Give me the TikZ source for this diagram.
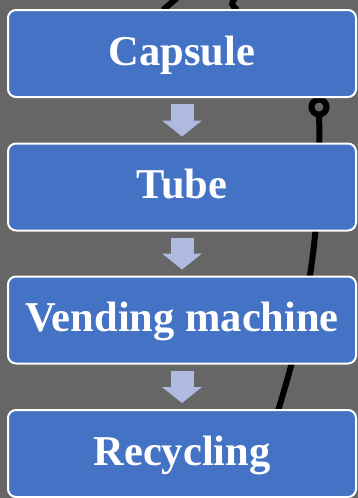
\documentclass[tikz,border=0pt]{standalone}
\usepackage{fontspec}
\setmainfont{Liberation Serif}
\usetikzlibrary{arrows.meta}
\definecolor{slate}{HTML}{666666}
\definecolor{stageblue}{HTML}{4472C4}
\definecolor{paleblue}{HTML}{AEBAE0}

\begin{document}
\begin{tikzpicture}
    [ x=1pt, y=-1pt,
      stage/.style={draw=white, line width=2pt, fill=stageblue, rounded corners=8pt,
                    minimum width=348pt, minimum height=87pt, inner sep=0pt,
                    text=white, font=\fontsize{42.5}{42.5}\selectfont\bfseries,
                    text height=23pt, text depth=0pt},
      flow/.style={paleblue, line width=23pt,
                   -{Triangle[width=40pt,length=16pt,line width=0pt]}},
      wire/.style={draw=black, line width=6pt},
    ]
    \useasboundingbox (0, 0) rectangle (358, 498);
    \fill[slate] (0, 0) rectangle (358, 498);

    % the cord running behind the boxes
    \draw[wire] (163, 10) -- (177, -2);
    \draw[wire] (237, 10) .. controls (231, 4) .. (235, -2);
    \draw[wire] (319, 107) circle (7.5);
    \draw[wire] (319, 114) .. controls (323, 250) and (300, 340) .. (277, 414);

    \foreach \name / \label / \y in {capsule/Capsule/53.5, tube/Tube/187,
                                     vending/Vending machine/320, recycling/Recycling/453.5} {
        \node[stage] (\name) at (182, \y) {\label};
    }

    \foreach \from / \to in {capsule/tube, tube/vending, vending/recycling}
        \draw[flow] ([yshift=-6pt]\from.south) -- ([yshift=6pt]\to.north);
\end{tikzpicture}
\end{document}
